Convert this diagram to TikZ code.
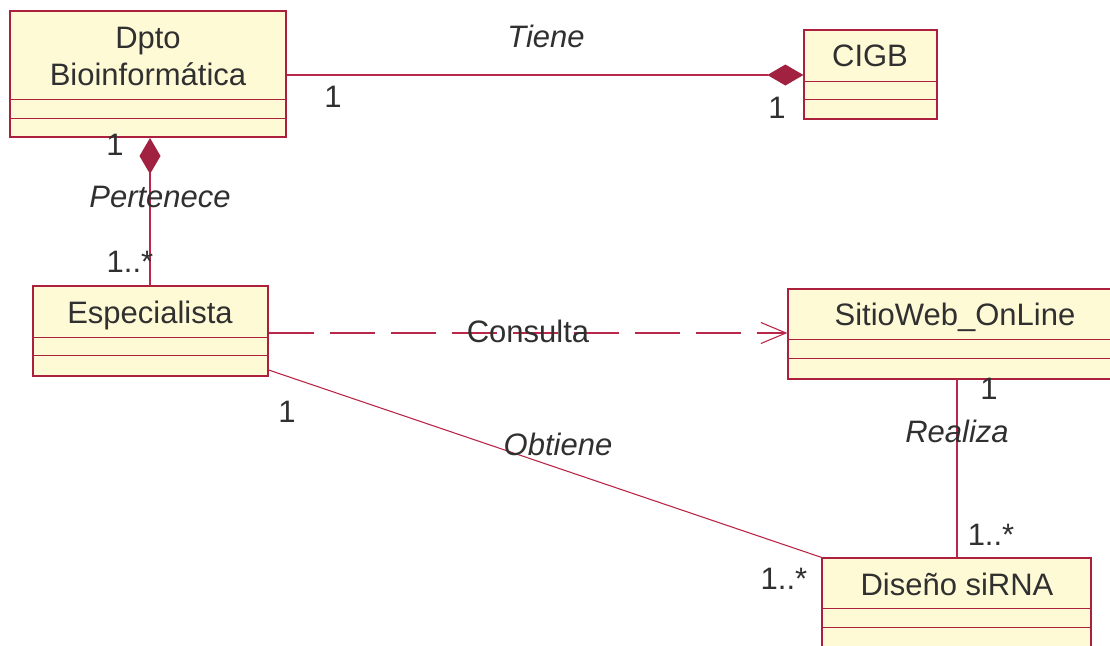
\documentclass[tikz,border=0pt]{standalone}
\usepackage{fontspec}
\setmainfont{Liberation Sans}
\usetikzlibrary{arrows.meta}
\definecolor{bord}{RGB}{172,32,62}
\definecolor{conn}{RGB}{185,40,75}
\definecolor{clsfill}{RGB}{255,250,214}
\definecolor{dmd}{RGB}{160,34,64}
\definecolor{txt}{RGB}{48,48,48}
\tikzset{
  cls/.style={draw=bord, line width=1.3pt, fill=clsfill, rectangle, inner sep=0pt},
  divline/.style={draw=bord, line width=1pt},
  lbl/.style={text=txt, font=\fontsize{31}{36}\selectfont, anchor=base, inner sep=0pt},
  ilbl/.style={lbl, font=\fontsize{31}{36}\selectfont\itshape},
  assoc/.style={draw=conn, line width=1.1pt},
  comp/.style={assoc, -{Diamond[length=36pt,width=21pt,fill=dmd,color=dmd]}},
}
\begin{document}
\begin{tikzpicture}[x=1pt,y=-1pt]
\useasboundingbox (0,0) rectangle (1110,645);
\clip (0,0) rectangle (1110,645);
% classes
\node[cls, minimum width=276pt, minimum height=126pt] (dpto) at (148,74) {};
\draw[divline] (dpto.west |- 0,99) -- (dpto.east |- 0,99);
\draw[divline] (dpto.west |- 0,118) -- (dpto.east |- 0,118);
\node[lbl] (dptoT1) at (148,48) {Dpto};
\node[lbl] (dptoT2) at (148,85) {Bioinformática};

\node[cls, minimum width=133pt, minimum height=89pt] (cigb) at (870.5,74.5) {};
\draw[divline] (cigb.west |- 0,81) -- (cigb.east |- 0,81);
\draw[divline] (cigb.west |- 0,99) -- (cigb.east |- 0,99);
\node[lbl] (cigbT) at (870,66) {CIGB};

\node[cls, minimum width=235pt, minimum height=90pt] (espec) at (150.5,331) {};
\draw[divline] (espec.west |- 0,337) -- (espec.east |- 0,337);
\draw[divline] (espec.west |- 0,355) -- (espec.east |- 0,355);
\node[lbl] (especT) at (150,323) {Especialista};

\node[cls, minimum width=334pt, minimum height=90pt] (sitio) at (955,334) {};
\draw[divline] (sitio.west |- 0,339) -- (sitio.east |- 0,339);
\draw[divline] (sitio.west |- 0,358) -- (sitio.east |- 0,358);
\node[lbl] (sitioT) at (955,325) {SitioWeb\_OnLine};

\node[cls, minimum width=269pt, minimum height=120pt] (dis) at (956.5,618) {};
\draw[divline] (dis.west |- 0,608) -- (dis.east |- 0,608);
\draw[divline] (dis.west |- 0,627) -- (dis.east |- 0,627);
\node[lbl] (disT) at (957,595) {Diseño siRNA};

% connectors
\coordinate (dptoR) at (dpto.east |- 0,75);
\coordinate (cigbL) at (cigb.west |- 0,75);
\draw[comp] (dptoR) -- (cigbL);

\coordinate (especTop) at (150,286);
\coordinate (dptoBot) at (150,138);
\draw[comp] (especTop) -- (dptoBot);

\coordinate (especR) at (espec.east |- 0,333);
\coordinate (sitioL) at (sitio.west |- 0,333);
\draw[assoc, dash pattern=on 45pt off 16pt, -{Straight Barb[length=25pt,width=21pt,line width=1.1pt]}] (especR) -- (sitioL);

\coordinate (especObt) at (espec.east |- 0,370);
\draw[assoc] (especObt) -- (dis.north west);

\coordinate (sitioBot) at (957,379);
\coordinate (disTop) at (957,558);
\draw[assoc] (sitioBot) -- (disTop);

% labels
\node[ilbl] (tiene) at (546,47) {Tiene};
\node[lbl] (m1) at (333,107) {1};
\node[lbl] (m2) at (777,118) {1};
\node[lbl] (m3) at (115,155) {1};
\node[ilbl] (pert) at (160,207) {Pertenece};
\node[lbl] (m4) at (130,272) {1..*};
\node[lbl] (cons) at (528,342) {Consulta};
\node[lbl] (m5) at (287,422) {1};
\node[ilbl] (obt) at (558,455) {Obtiene};
\node[lbl] (m6) at (784,589) {1..*};
\node[lbl] (m7) at (989,399) {1};
\node[ilbl] (real) at (957,442) {Realiza};
\node[lbl] (m8) at (991,545) {1..*};
\end{tikzpicture}
\end{document}
